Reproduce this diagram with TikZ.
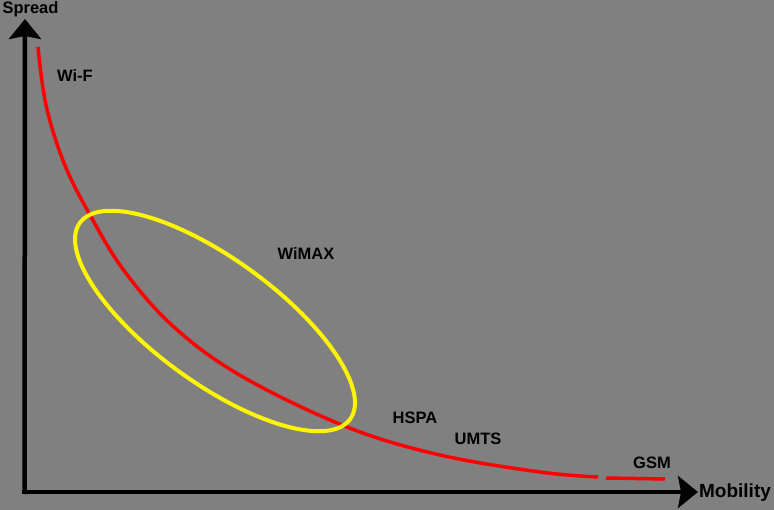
\documentclass[tikz,border=0pt]{standalone}
\usepackage{fontspec}
\setmainfont{Liberation Sans}
\usetikzlibrary{arrows.meta}
\definecolor{bggray}{RGB}{128,128,128}
\definecolor{curvered}{RGB}{255,0,0}
\definecolor{ringyellow}{RGB}{255,245,0}
\begin{document}
\begin{tikzpicture}[x=1pt,y=-1pt,
  lbl/.style={font=\bfseries\fontsize{16.5}{16.5}\selectfont, text=black, inner sep=0pt, anchor=base},
  axis/.style={line width=4.5pt, -{Stealth[length=20pt,width=32pt,inset=3pt]}},
  curve/.style={curvered, line width=3.5pt},
  ring/.style={ringyellow, line width=4pt}]
\fill[bggray] (0,0) rectangle (774,510);
\useasboundingbox (0,0) rectangle (774,510);
% axes
\coordinate (origin) at (22,492);
\coordinate (ybase) at (24.5,494);
\coordinate (ytip) at (25,19);
\coordinate (xtip) at (698,492);
\draw[axis] (ybase) -- (ytip);
\draw[axis] (origin) -- (xtip);
% trade-off curve
\draw[curve] plot[smooth, tension=0.6] coordinates {
  (38,47) (46,105) (64,163) (90,215) (125,272) (175,328) (243,377) (347,427)
  (440,455) (540,472) (598,477)};
\draw[curve] (606,478) -- (665,479);
% WiMAX ellipse
\draw[ring, rotate around={-36:(215,321)}] (215,321) ellipse [x radius=167pt, y radius=62pt];
% labels
\node[lbl] (spread) at (30.5,14) {Spread};
\node[lbl] (wif) at (75,82) {Wi-F};
\node[lbl] (wimax) at (306,260) {WiMAX};
\node[lbl] (hspa) at (415,424) {HSPA};
\node[lbl] (umts) at (478,445) {UMTS};
\node[lbl] (gsm) at (652,468) {GSM};
\node[lbl, font=\bfseries\fontsize{19}{19}\selectfont] (mobility) at (735,497) {Mobility};
\end{tikzpicture}
\end{document}
